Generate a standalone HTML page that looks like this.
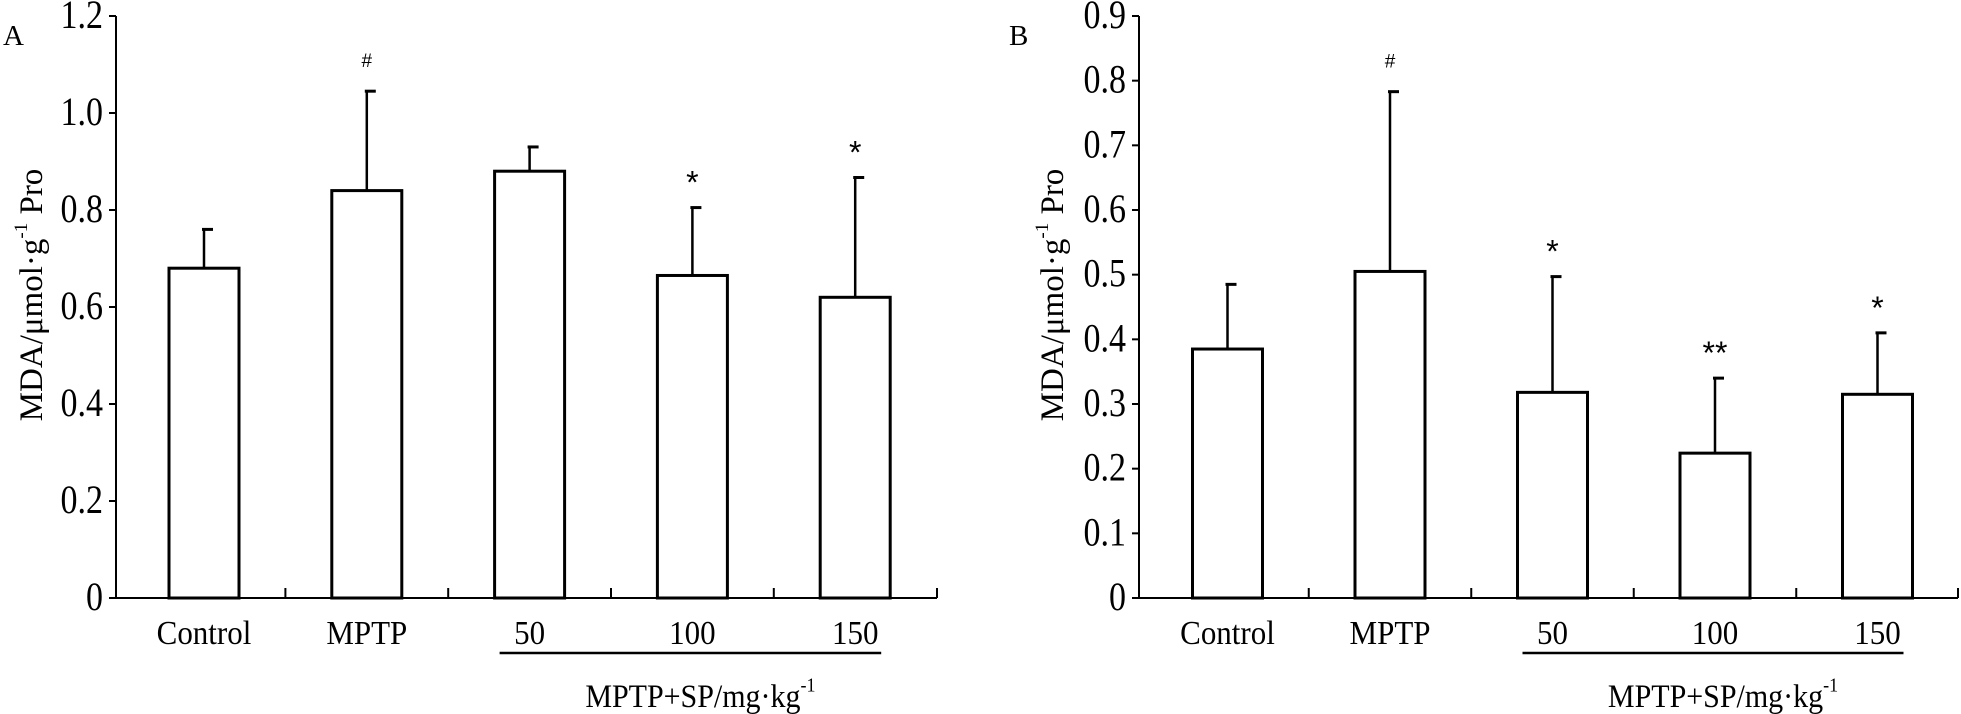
<!DOCTYPE html>
<html><head><meta charset="utf-8"><style>
body{margin:0;background:#fff}
svg{display:block;font-family:"Liberation Serif",serif}
</style></head><body>
<svg id="chart" width="1961" height="714" viewBox="0 0 1961 714" xmlns="http://www.w3.org/2000/svg"></svg>
<script>
const categories = ["Control","MPTP","50","100","150"];
const valuesA = [0.68,0.84,0.88,0.665,0.62];
const errorsA = [0.08,0.205,0.05,0.14,0.247];
const marksA = ["","#","","*","*"];
const ticksA = [0,0.2,0.4,0.6,0.8,1.0,1.2];
const tickLabelsA = ["0","0.2","0.4","0.6","0.8","1.0","1.2"];
const valuesB = [0.385,0.505,0.318,0.224,0.315];
const errorsB = [0.1,0.278,0.179,0.116,0.095];
const marksB = ["","#","*","**","*"];
const ticksB = [0,0.1,0.2,0.3,0.4,0.5,0.6,0.7,0.8,0.9];
const tickLabelsB = ["0","0.1","0.2","0.3","0.4","0.5","0.6","0.7","0.8","0.9"];

const svg=document.getElementById('chart');
const NS="http://www.w3.org/2000/svg";
function mk(tag,attrs,parent){const e=document.createElementNS(NS,tag);for(const k in attrs)e.setAttribute(k,attrs[k]);(parent||svg).appendChild(e);return e;}

function panel(p){
  const g=mk('g',{});
  
  
  const y=v=>p.y0-(v/p.ymax)*(p.y0-p.ytop);
  const x=i=>p.c0+i*p.step;
  const ya=mk('line',{x1:p.ax,y1:p.ytop,x2:p.ax,y2:p.y0,stroke:'#000','stroke-width':2},g);
  
  
  const xa=mk('line',{x1:p.ax,y1:p.y0,x2:p.xend,y2:p.y0,stroke:'#000','stroke-width':2},g);
  
  
  p.ticks.forEach((t,i)=>{
    mk('line',{x1:p.ax-7,y1:y(t),x2:p.ax,y2:y(t),stroke:'#000','stroke-width':2},g);
    const tx=mk('text',{transform:`translate(${p.ax-13},${y(t)+12}) scale(1,1.18)`,'text-anchor':'end','font-size':34},g);
    
    
    tx.textContent=p.tickLabels[i];
  });
  for(let i=1;i<categories.length;i++){
    mk('line',{x1:x(i)-p.step/2,y1:p.y0-10,x2:x(i)-p.step/2,y2:p.y0,stroke:'#000','stroke-width':2},g);
  }
  mk('line',{x1:p.xend,y1:p.y0-10,x2:p.xend,y2:p.y0,stroke:'#000','stroke-width':2},g);
  categories.forEach((c,i)=>{
    const cx=x(i), v=p.vals[i], e=p.errs[i];
    const el=mk('line',{x1:cx,y1:y(v+e),x2:cx,y2:y(v),stroke:'#000','stroke-width':2.5},g);
    
    
    mk('line',{x1:cx-2,y1:y(v+e),x2:cx+9,y2:y(v+e),stroke:'#000','stroke-width':3},g);
    const r=mk('rect',{x:cx-35,y:y(v),width:70,height:y(0)-y(v),fill:'#fff',stroke:'#000','stroke-width':3},g);
    
    
    const lb=mk('text',{transform:`translate(${cx},644) scale(1,1.1)`,'text-anchor':'middle','font-size':31},g);
    
    
    lb.textContent=c;
    if(p.marks[i]){
      const isHash=p.marks[i]==='#';
      const m=mk('text',{x:cx,y:isHash?y(v+e)-24:y(v+e)-14,'text-anchor':'middle','font-size':isHash?19:32,'font-family':'"Liberation Sans",sans-serif'},g);
      
      
      m.textContent=p.marks[i];
    }
  });
  const ul=mk('line',{x1:x(2)-30,y1:653,x2:x(4)+26,y2:653,stroke:'#000','stroke-width':2.5},g);
  
  
  const gl=mk('text',{transform:`translate(${(x(2)+x(4))/2+8},707) scale(1,1.1)`,'text-anchor':'middle','font-size':30},g);
  
  
  gl.innerHTML='MPTP+SP/mg·kg<tspan dy="-14" font-size="18">-1</tspan>';
  const yt=mk('text',{transform:`translate(${p.tx},${(p.ytop+p.y0)/2-12}) rotate(-90)`,'text-anchor':'middle','font-size':33},g);
  
  
  yt.innerHTML='MDA/μmol·g<tspan dy="-15" font-size="19">-1</tspan><tspan dy="15"> Pro</tspan>';
  const pl=mk('text',{x:p.lx,y:45,'font-size':29},g);
  
  
  pl.textContent=p.id;
}
panel({id:'A',ax:116,xend:937,ytop:16,y0:598,ymax:1.2,c0:204,step:162.8,vals:valuesA,errs:errorsA,marks:marksA,ticks:ticksA,tickLabels:tickLabelsA,tx:42,lx:3});
panel({id:'B',ax:1139,xend:1958,ytop:16,y0:598,ymax:0.9,c0:1227.5,step:162.5,vals:valuesB,errs:errorsB,marks:marksB,ticks:ticksB,tickLabels:tickLabelsB,tx:1063,lx:1009});
</script>
</body></html>
